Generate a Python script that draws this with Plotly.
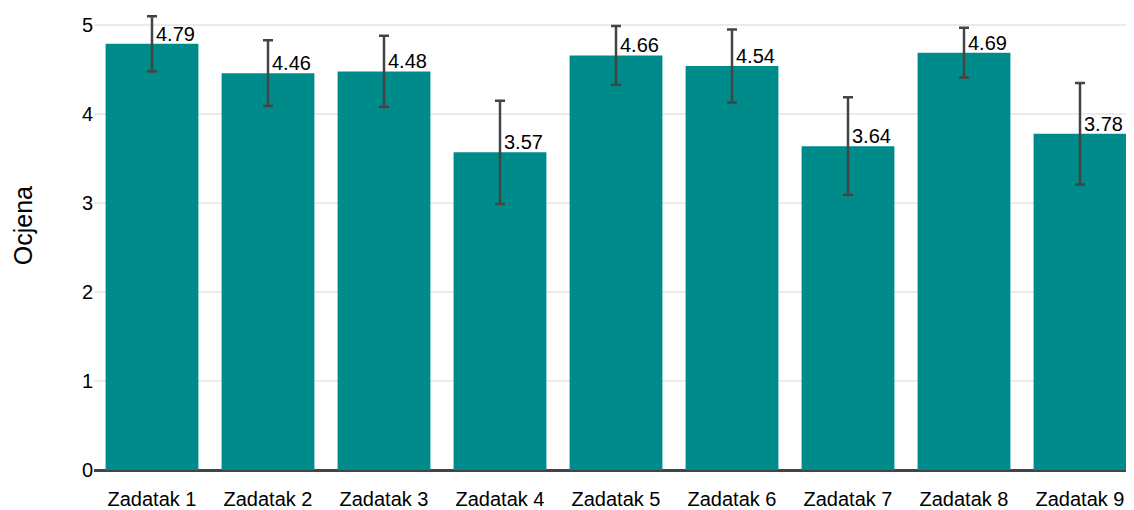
import plotly.graph_objects as go

categories = ["Zadatak 1", "Zadatak 2", "Zadatak 3", "Zadatak 4", "Zadatak 5",
              "Zadatak 6", "Zadatak 7", "Zadatak 8", "Zadatak 9"]
means = [4.79, 4.46, 4.48, 3.57, 4.66, 4.54, 3.64, 4.69, 3.78]
errors = [0.31, 0.37, 0.40, 0.58, 0.33, 0.41, 0.55, 0.28, 0.57]
y_title = "Ocjena"

FONT = "Liberation Sans, Arial, sans-serif"

fig = go.Figure()
fig.add_trace(go.Bar(
    x=categories, y=means,
    marker=dict(color="#008B8B", line=dict(width=0)),
    error_y=dict(type="data", array=errors, visible=True, color="#444444",
                 thickness=2.5, width=5),
    hoverinfo="skip",
))

for c, m in zip(categories, means):
    fig.add_annotation(x=c, y=m, text=f"{m:.2f}", showarrow=False,
                       xanchor="left", yanchor="bottom", xshift=2, yshift=-3,
                       font=dict(size=20, color="black", family=FONT))

fig.add_annotation(xref="paper", yref="paper", x=-0.068, y=0.53, text=y_title,
                   textangle=-90, showarrow=False, xanchor="center", yanchor="middle",
                   font=dict(size=25, color="black", family=FONT))

fig.update_layout(
    width=1134, height=510,
    margin=dict(l=86, r=4, t=2, b=48),
    paper_bgcolor="white", plot_bgcolor="white",
    font=dict(family=FONT, size=20, color="black"),
    showlegend=False,
    bargap=0.2,
)
fig.update_xaxes(showgrid=False, showline=True, linecolor="#444444", linewidth=1.5,
                 ticks="", ticklabelstandoff=10,
                 tickfont=dict(size=20, family=FONT, color="black"))
fig.update_yaxes(range=[0, 5.17], tickvals=[0, 1, 2, 3, 4, 5], showgrid=True,
                 gridcolor="#EBEBEB", gridwidth=1.5, zeroline=True, zerolinecolor="#444444",
                 zerolinewidth=1.5, ticks="",
                 tickfont=dict(size=20, family=FONT, color="black"))

fig.write_html("out.html")
